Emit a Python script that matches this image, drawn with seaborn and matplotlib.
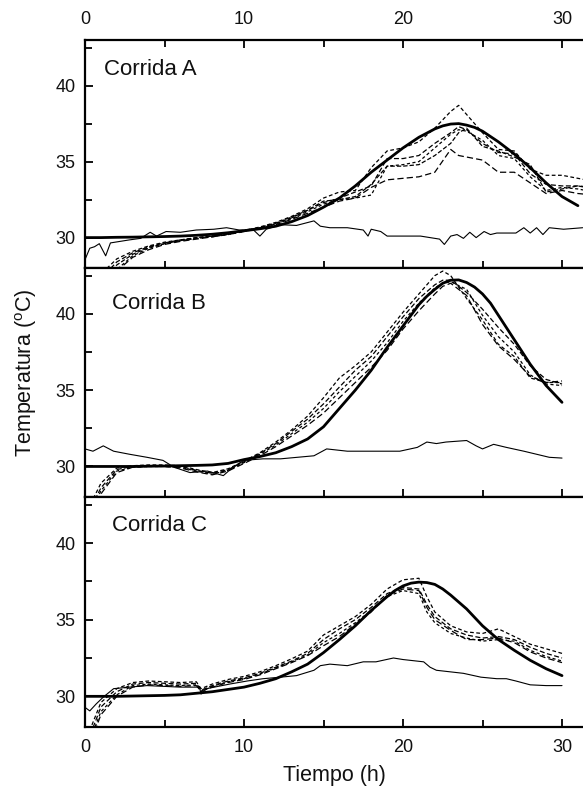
import matplotlib
matplotlib.use("Agg")
import matplotlib.pyplot as plt
import seaborn as sns
import pandas as pd

# ---------------- data ----------------
# model (thick solid) curves
t_model_a = [0, 1, 2, 3, 4, 5, 6, 7, 8, 9, 10, 11, 12, 13, 14, 15, 16, 17, 18,
             19, 20, 21, 22, 22.5, 23, 23.5, 24, 24.5, 25, 26, 27, 28, 29, 30, 31]
model_a = [30.0, 30.0, 30.02, 30.03, 30.05, 30.07, 30.1, 30.15, 30.22, 30.32,
           30.45, 30.58, 30.75, 31.05, 31.45, 32.0, 32.6, 33.4, 34.3, 35.1,
           35.9, 36.6, 37.15, 37.35, 37.47, 37.5, 37.4, 37.25, 37.0, 36.3, 35.5,
           34.6, 33.6, 32.7, 32.1]
t_model_b = [0, 1, 2, 3, 4, 5, 6, 7, 8, 9, 10, 11, 12, 13, 14, 15, 16, 17, 18,
             19, 20, 21, 21.5, 22, 22.5, 23, 23.5, 24, 24.5, 25, 25.5, 26, 27,
             28, 29, 30]
model_b = [30.0, 30.0, 30.0, 30.0, 30.02, 30.03, 30.05, 30.07, 30.1, 30.2,
           30.45, 30.65, 30.9, 31.3, 31.8, 32.6, 33.8, 35.0, 36.3, 37.8,
           39.2, 40.6, 41.15, 41.6, 42.0, 42.2, 42.22, 42.05, 41.75, 41.3, 40.7,
           39.9, 38.3, 36.7, 35.3, 34.2]
t_model_c = [0, 1, 2, 3, 4, 5, 6, 7, 8, 9, 10, 11, 12, 13, 14, 15, 16, 17, 18,
             19, 19.5, 20, 20.5, 21, 21.5, 22, 22.5, 23, 24, 25, 26, 27, 28, 29, 30]
model_c = [30.0, 30.0, 30.0, 30.02, 30.04, 30.06, 30.1, 30.2, 30.3, 30.45,
           30.6, 30.85, 31.15, 31.6, 32.1, 32.85, 33.7, 34.6, 35.6, 36.5,
           36.9, 37.2, 37.38, 37.45, 37.42, 37.3, 37.0, 36.6, 35.7, 34.6, 33.7,
           33.0, 32.35, 31.8, 31.35]

# measured temperatures (dashed), Corrida A
t_meas_a = [0, 1, 2, 3, 4, 5, 6, 7, 8, 9, 10, 11, 12, 13, 14, 15, 16, 17, 18,
            19, 20, 21, 22, 23, 23.5, 24, 25, 26, 27, 28, 29, 30, 31, 32]
meas_a1 = [25.5, 27.6, 28.6, 29.1, 29.45, 29.7, 29.85, 30.0, 30.1, 30.25, 30.45,
           30.7, 31.0, 31.4, 31.9, 32.6, 33.0, 33.1, 34.6, 35.7, 35.9, 36.3,
           37.2, 38.3, 38.7, 38.1, 36.9, 35.8, 35.7, 34.5, 34.1, 34.1, 33.9, 33.7]
meas_a2 = [25.0, 27.3, 28.4, 29.0, 29.4, 29.65, 29.85, 29.95, 30.1, 30.25, 30.5,
           30.65, 30.95, 31.3, 31.8, 32.3, 32.6, 33.0, 33.4, 35.2, 35.2, 35.4,
           36.2, 36.9, 37.3, 37.1, 36.2, 35.6, 35.5, 34.2, 33.5, 33.4, 33.4, 33.3]
meas_a3 = [24.5, 26.5, 27.9, 28.8, 29.3, 29.6, 29.8, 29.95, 30.05, 30.2, 30.4,
           30.6, 30.9, 31.25, 31.7, 32.2, 32.5, 32.6, 32.8, 34.7, 34.8, 35.0,
           35.9, 36.8, 37.1, 37.0, 36.4, 35.4, 35.2, 34.0, 33.1, 33.3, 33.2, 33.0]
meas_a4 = [24.0, 26.2, 27.8, 28.7, 29.2, 29.55, 29.75, 29.9, 30.05, 30.2, 30.4,
           30.6, 30.85, 31.2, 31.6, 32.0, 32.4, 32.6, 33.3, 33.8, 33.9, 34.0,
           34.3, 35.8, 35.4, 35.3, 35.1, 34.3, 34.3, 33.6, 32.9, 33.1, 32.9, 32.8]
meas_a5 = [25.0, 27.0, 28.2, 28.9, 29.35, 29.6, 29.8, 30.0, 30.1, 30.25, 30.45,
           30.65, 30.95, 31.35, 31.8, 32.4, 32.5, 32.7, 33.5, 34.7, 34.7, 34.8,
           35.4, 36.2, 36.9, 37.2, 36.0, 35.7, 35.3, 34.8, 33.0, 33.2, 33.4, 33.2]

# measured temperatures (dashed), Corrida B
t_meas_b = [0, 1, 2, 3, 4, 5, 6, 7, 8, 9, 10, 11, 12, 13, 14, 15, 16, 17, 18,
            19, 20, 21, 22, 22.5, 23, 24, 25, 26, 27, 28, 29, 30]
meas_b1 = [26.8, 28.9, 29.9, 30.05, 30.1, 30.1, 30.05, 29.8, 29.6, 29.85, 30.35,
           30.9, 31.6, 32.4, 33.3, 34.5, 35.8, 36.6, 37.5, 38.8, 40.1, 41.3,
           42.5, 42.8, 42.5, 41.0, 39.6, 38.0, 37.2, 35.8, 35.5, 35.5]
meas_b2 = [26.5, 28.6, 29.8, 30.0, 30.05, 30.05, 30.0, 29.75, 29.55, 29.8, 30.3,
           30.85, 31.5, 32.3, 33.1, 34.1, 35.2, 36.3, 37.2, 38.5, 39.8, 41.0,
           41.9, 42.2, 42.2, 41.4, 40.3, 39.1, 38.0, 36.6, 35.7, 35.4]
meas_b3 = [26.2, 28.4, 29.7, 29.95, 30.0, 30.0, 29.95, 29.7, 29.5, 29.75, 30.25,
           30.8, 31.4, 32.15, 32.9, 33.8, 34.9, 35.9, 36.9, 38.1, 39.5, 40.7,
           41.7, 42.0, 42.1, 41.6, 39.9, 38.5, 37.5, 36.0, 35.4, 35.3]
meas_b4 = [26.0, 28.2, 29.6, 29.95, 30.0, 30.0, 29.9, 29.65, 29.45, 29.7, 30.2,
           30.7, 31.3, 32.0, 32.7, 33.5, 34.5, 35.5, 36.5, 37.6, 39.0, 40.2,
           41.3, 41.8, 42.0, 41.2, 39.3, 37.9, 37.0, 35.9, 35.5, 35.6]

# measured temperatures (dashed), Corrida C
t_meas_c = [0, 1, 2, 3, 4, 5, 6, 7, 7.3, 8, 9, 10, 11, 12, 13, 14, 15, 16, 17,
            18, 19, 20, 21, 21.5, 22, 23, 24, 25, 26, 27, 28, 29, 30]
meas_c1 = [27.0, 29.6, 30.5, 30.9, 31.0, 30.95, 30.9, 30.95, 30.5, 30.8, 31.1,
           31.3, 31.6, 32.0, 32.45, 32.95, 34.0, 34.6, 35.2, 36.0, 37.0, 37.6,
           37.7, 36.5, 35.5, 34.6, 34.2, 34.1, 34.4, 33.9, 33.4, 33.1, 32.8]
meas_c2 = [26.6, 29.3, 30.3, 30.8, 30.9, 30.85, 30.8, 30.85, 30.4, 30.7, 31.0,
           31.2, 31.5, 31.9, 32.3, 32.8, 33.7, 34.4, 35.0, 35.8, 36.7, 37.1,
           37.0, 36.0, 35.2, 34.4, 34.0, 33.8, 33.9, 33.7, 33.2, 32.8, 32.5]
meas_c3 = [26.3, 29.0, 30.1, 30.7, 30.8, 30.75, 30.7, 30.75, 30.3, 30.65, 30.95,
           31.15, 31.45, 31.85, 32.25, 32.7, 33.5, 34.1, 34.8, 35.6, 36.5, 36.9,
           36.7, 35.5, 34.8, 34.1, 33.8, 33.6, 33.7, 33.6, 33.0, 32.6, 32.3]
meas_c4 = [26.0, 28.8, 30.0, 30.6, 30.75, 30.7, 30.65, 30.7, 30.35, 30.6, 30.9,
           31.1, 31.4, 31.8, 32.2, 32.65, 33.3, 33.9, 34.7, 35.5, 36.6, 37.0,
           36.9, 35.8, 35.0, 34.3, 33.7, 33.7, 33.8, 33.5, 32.9, 32.5, 32.2]

# ambient temperature (thin solid)
t_amb_a = [0, 0.3, 0.6, 0.9, 1.3, 1.6, 2.2, 2.8, 3.5, 4.1, 4.5, 5.1, 6.0, 7.0,
           8.1, 8.9, 9.7, 10.6, 11.0, 11.4, 12.3, 13.3, 14.4, 14.8, 15.4, 16.5,
           17.5, 17.8, 18.0, 18.6, 19.0, 21.1, 21.7, 22.3, 22.6, 23.0, 23.4,
           23.8, 24.2, 24.6, 25.1, 25.5, 25.9, 27.1, 27.6, 28.0, 28.4, 28.8,
           29.2, 30.1, 31.3]
amb_a = [28.55, 29.3, 29.4, 29.6, 28.8, 29.65, 29.75, 29.85, 29.95, 30.35, 30.1,
         30.4, 30.35, 30.5, 30.55, 30.65, 30.5, 30.5, 30.1, 30.55, 30.85, 30.8,
         31.1, 30.75, 30.65, 30.65, 30.5, 30.1, 30.55, 30.4, 30.1, 30.1, 30.0,
         29.9, 29.55, 30.1, 30.2, 29.95, 30.35, 30.0, 30.4, 30.2, 30.3, 30.3,
         30.65, 30.3, 30.65, 30.2, 30.65, 30.55, 30.65]
t_amb_b = [0, 0.5, 1.15, 1.8, 2.8, 3.9, 4.9, 5.6, 6.6, 7.7, 8.7, 9.3, 10.0, 11.2,
           12.3, 14.4, 15.2, 16.5, 18.6, 19.8, 20.9, 21.5, 22.1, 22.7, 24.0,
           24.6, 25.0, 25.7, 26.5, 27.6, 28.4, 29.2, 30.0]
amb_b = [31.15, 31.0, 31.35, 31.0, 30.8, 30.6, 30.4, 29.95, 29.6, 29.7, 29.4,
         29.95, 30.4, 30.5, 30.5, 30.7, 31.15, 31.0, 31.0, 31.0, 31.25, 31.6,
         31.5, 31.6, 31.7, 31.35, 31.15, 31.45, 31.25, 31.0, 30.8, 30.6, 30.55]
t_amb_c = [0, 0.3, 0.7, 1.15, 1.8, 2.8, 3.9, 6.0, 7.2, 7.3, 7.65, 9.1, 10.2,
           11.2, 12.3, 13.3, 14.4, 14.8, 15.4, 16.5, 17.5, 18.3, 19.4, 20.0,
           21.3, 21.7, 22.1, 23.8, 24.9, 25.9, 26.5, 27.1, 28.0, 29.0, 30.0]
amb_c = [29.28, 29.05, 29.5, 29.95, 30.5, 30.6, 30.7, 30.6, 30.6, 30.15, 30.5,
         30.8, 31.0, 31.15, 31.25, 31.35, 31.7, 32.0, 32.1, 32.0, 32.25, 32.25,
         32.5, 32.4, 32.25, 31.9, 31.7, 31.5, 31.25, 31.15, 31.15, 31.0, 30.75,
         30.7, 30.7]

panel_titles = ["Corrida A", "Corrida B", "Corrida C"]
x_ticks = [0, 10, 20, 30]
y_ticks = [30, 35, 40]

panels = [
    dict(model=(t_model_a, model_a), amb=(t_amb_a, amb_a),
         meas=(t_meas_a, [meas_a1, meas_a2, meas_a3, meas_a4, meas_a5])),
    dict(model=(t_model_b, model_b), amb=(t_amb_b, amb_b),
         meas=(t_meas_b, [meas_b1, meas_b2, meas_b3, meas_b4])),
    dict(model=(t_model_c, model_c), amb=(t_amb_c, amb_c),
         meas=(t_meas_c, [meas_c1, meas_c2, meas_c3, meas_c4])),
]

# ---------------- style ----------------
sns.set_theme(style="white")
plt.rcParams["font.family"] = ["Liberation Sans", "DejaVu Sans"]
plt.rcParams["mathtext.default"] = "regular"

W, H = 583, 799
fig = plt.figure(figsize=(W / 100, H / 100), dpi=100)

left_px, right_px = 85, 583
rows = [(40, 268), (268, 497), (497, 727)]
x_max = 31.32
dash_styles = [(3, 2), (4, 2), (2.5, 2), (5, 2.5), (3.5, 1.6)]
text_pos = [(1.2, 40.7), (1.7, 40.33), (1.7, 40.8)]

for i, (top, bot) in enumerate(rows):
    ax = fig.add_axes([left_px / W, 1 - bot / H, (right_px - left_px) / W, (bot - top) / H])
    p = panels[i]

    t_m, series = p["meas"]
    for k, s in enumerate(series):
        df = pd.DataFrame({"t": t_m, "T": s})
        sns.lineplot(data=df, x="t", y="T", ax=ax, color="black", lw=0.9,
                     estimator=None)
        ax.lines[-1].set_dashes(dash_styles[k % len(dash_styles)])

    df = pd.DataFrame({"t": p["amb"][0], "T": p["amb"][1]})
    sns.lineplot(data=df, x="t", y="T", ax=ax, color="black", lw=0.8, estimator=None)

    df = pd.DataFrame({"t": p["model"][0], "T": p["model"][1]})
    sns.lineplot(data=df, x="t", y="T", ax=ax, color="black", lw=2.0, estimator=None)

    ax.set_xlim(0, x_max)
    ax.set_ylim(28, 43)
    ax.set_xlabel("")
    ax.set_ylabel("")
    ax.set_xticks(x_ticks)
    ax.set_xticks([5, 15, 25], minor=True)
    ax.set_yticks(y_ticks)
    ax.set_yticks([32.5, 37.5, 42.5], minor=True)
    for side in ["left", "top", "bottom"]:
        ax.spines[side].set_visible(True)
        ax.spines[side].set_linewidth(1.6)
        ax.spines[side].set_color("black")
    ax.spines["right"].set_visible(False)
    ax.tick_params(axis="both", which="major", direction="in", length=6, width=1.3,
                   color="black", labelsize=13, labelcolor="#111111")
    ax.tick_params(axis="both", which="minor", direction="in", length=5, width=1.3,
                   color="black")
    ax.tick_params(axis="y", which="both", left=True, right=False, pad=7)
    ax.tick_params(axis="x", which="both", bottom=True, top=(i == 0),
                   labelbottom=(i == 2), labeltop=(i == 0), pad=9)
    ax.text(text_pos[i][0], text_pos[i][1], panel_titles[i], fontsize=16,
            ha="left", va="baseline", color="#111111")

fig.text(0.045, 0.534, "Temperatura ($^{o}$C)", rotation=90, ha="center",
         va="center", fontsize=15.5, color="#111111")
fig.text((85 + 583) / 2 / W, 1 - 775 / H, "Tiempo (h)", ha="center", va="center",
         fontsize=15.5, color="#111111")

fig.savefig("out.png", dpi=100)
